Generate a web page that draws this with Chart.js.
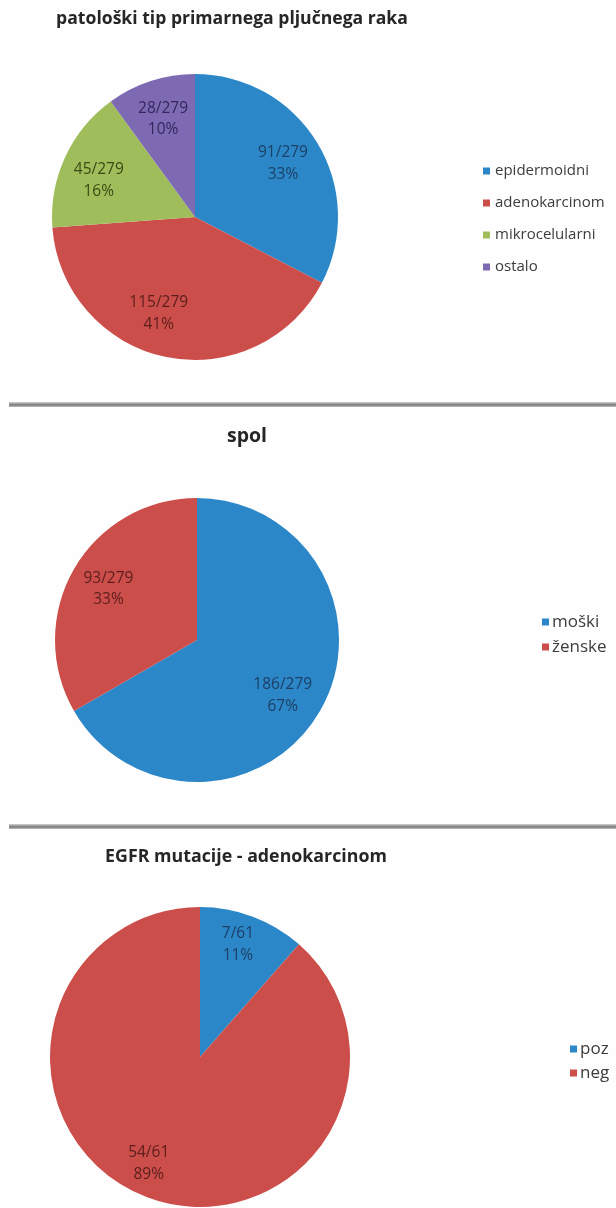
<!DOCTYPE html>
<html>
<head>
<meta charset="utf-8">
<script src="https://cdn.jsdelivr.net/npm/chart.js@4.4.1/dist/chart.umd.min.js"></script>
<style>
  html, body { margin: 0; padding: 0; background: #ffffff; }
  #page { position: relative; width: 616px; height: 1208px; overflow: hidden; background: #fefefe; }
  .panel { position: absolute; left: 0; width: 616px; }
  .rule { position: absolute; left: 9px; width: 607px; height: 5px;
          background: linear-gradient(#d4d4d4, #8c8c8c 45%, #7a7a7a 60%, #c2c2c2); }
</style>
</head>
<body>
<div id="page">
  <canvas id="c1" class="panel" style="top:0px" width="616" height="402"></canvas>
  <div class="rule" style="top:402px"></div>
  <canvas id="c2" class="panel" style="top:408px" width="616" height="416"></canvas>
  <div class="rule" style="top:824px"></div>
  <canvas id="c3" class="panel" style="top:829px" width="616" height="379"></canvas>
</div>
<script>
// Histological type of primary lung cancer
const typeTitle = 'patološki tip primarnega pljučnega raka';
const typeLabels = ['epidermoidni', 'adenokarcinom', 'mikrocelularni', 'ostalo'];
const typeCounts = [91, 115, 45, 28];

// Sex
const sexTitle = 'spol';
const sexLabels = ['moški', 'ženske'];
const sexCounts = [186, 93];

// EGFR mutations in adenocarcinoma
const egfrTitle = 'EGFR mutacije - adenokarcinom';
const egfrLabels = ['poz', 'neg'];
const egfrCounts = [7, 54];

const BLUE = '#2B87C8', RED = '#CC4E4A', GREEN = '#9FBE5B', PURPLE = '#7E6AB2';
const BLUE_TXT = '#1d3f66', RED_TXT = '#5a1e1c', GREEN_TXT = '#394a14', PURPLE_TXT = '#33275e';
const FONT = '"Open Sans", Lato, sans-serif';

// font size that makes `text` span `width` pixels
function fitSize(ctx, text, weight, width) {
  ctx.font = `${weight} 100px ${FONT}`;
  return 100 * width / ctx.measureText(text).width;
}

// Draws the slice labels (count/total and percent), the title and the legend.
const panelDecor = {
  id: 'panelDecor',
  afterDatasetsDraw(chart, args, o) {
    const ctx = chart.ctx;
    const ds = chart.data.datasets[0];
    const total = ds.data.reduce((a, b) => a + b, 0);
    const meta = chart.getDatasetMeta(0);
    ctx.save();
    ctx.textAlign = 'center';
    ctx.textBaseline = 'middle';
    ctx.font = `${o.labelSize}px ${FONT}`;
    meta.data.forEach((arc, i) => {
      const p = arc.getProps(['x', 'y', 'startAngle', 'endAngle', 'outerRadius'], true);
      const mid = (p.startAngle + p.endAngle) / 2 + (o.labelNudge[i] || 0) * Math.PI / 180;
      const d = p.outerRadius * o.labelRadius;
      const lx = p.x + Math.cos(mid) * d;
      const ly = p.y + Math.sin(mid) * d;
      ctx.fillStyle = o.labelColors[i];
      ctx.fillText(`${ds.data[i]}/${total}`, lx, ly - o.lineGap / 2);
      ctx.fillText(`${Math.round(ds.data[i] / total * 100)}%`, lx, ly + o.lineGap / 2);
    });
    ctx.restore();
  },
  afterDraw(chart, args, o) {
    const ctx = chart.ctx;
    const ds = chart.data.datasets[0];
    ctx.save();
    // title
    const ts = fitSize(ctx, o.title, 'bold', o.titleWidth);
    ctx.textAlign = 'center';
    ctx.textBaseline = 'alphabetic';
    ctx.fillStyle = '#262626';
    ctx.font = `bold ${ts}px ${FONT}`;
    ctx.fillText(o.title, o.titleX, o.titleBase);
    // legend
    ctx.textAlign = 'left';
    ctx.textBaseline = 'middle';
    ctx.font = `${o.legendSize}px ${FONT}`;
    chart.data.labels.forEach((lab, i) => {
      const y = o.legendY + i * o.legendStep;
      ctx.fillStyle = ds.backgroundColor[i];
      ctx.fillRect(o.legendX, y - o.boxSize / 2, o.boxSize, o.boxSize);
      ctx.fillStyle = '#3c3c3c';
      ctx.fillText(lab, o.legendX + o.boxSize + o.boxGap, y);
    });
    ctx.restore();
  }
};

function makePie(id, labels, counts, colors, geo, decor) {
  const canvas = document.getElementById(id);
  const W = canvas.width, H = canvas.height;
  return new Chart(canvas, {
    type: 'pie',
    data: {
      labels: labels,
      datasets: [{ data: counts, backgroundColor: colors, borderWidth: 0, hoverOffset: 0 }]
    },
    options: {
      responsive: false,
      animation: false,
      events: [],
      layout: {
        padding: {
          left: geo.cx - geo.r,
          right: W - geo.cx - geo.r,
          top: geo.cy - geo.r,
          bottom: H - geo.cy - geo.r
        }
      },
      plugins: {
        legend: { display: false },
        title: { display: false },
        tooltip: { enabled: false },
        panelDecor: decor
      }
    },
    plugins: [panelDecor]
  });
}

makePie('c1', typeLabels, typeCounts, [BLUE, RED, GREEN, PURPLE],
  { cx: 195, cy: 217, r: 143 },
  { title: typeTitle, titleX: 232, titleBase: 23.5, titleWidth: 352,
    labelSize: 15.5, lineGap: 21.5, labelRadius: 0.72, labelNudge: [0, 9, -4, 0],
    labelColors: [BLUE_TXT, RED_TXT, GREEN_TXT, PURPLE_TXT],
    legendX: 483, legendY: 171, legendStep: 32, legendSize: 15, boxSize: 7, boxGap: 5 });

makePie('c2', sexLabels, sexCounts, [BLUE, RED],
  { cx: 197, cy: 232, r: 142 },
  { title: sexTitle, titleX: 247, titleBase: 34, titleWidth: 40,
    labelSize: 15.5, lineGap: 21.5, labelRadius: 0.72, labelNudge: [3, 0],
    labelColors: [BLUE_TXT, RED_TXT],
    legendX: 542, legendY: 214, legendStep: 25, legendSize: 17, boxSize: 7, boxGap: 3 });

makePie('c3', egfrLabels, egfrCounts, [BLUE, RED],
  { cx: 200, cy: 228, r: 150 },
  { title: egfrTitle, titleX: 246, titleBase: 33, titleWidth: 282,
    labelSize: 15.5, lineGap: 21.5, labelRadius: 0.79, labelNudge: [-2, 5],
    labelColors: [BLUE_TXT, RED_TXT],
    legendX: 570, legendY: 220, legendStep: 24, legendSize: 17, boxSize: 7, boxGap: 3 });
</script>
</body>
</html>
